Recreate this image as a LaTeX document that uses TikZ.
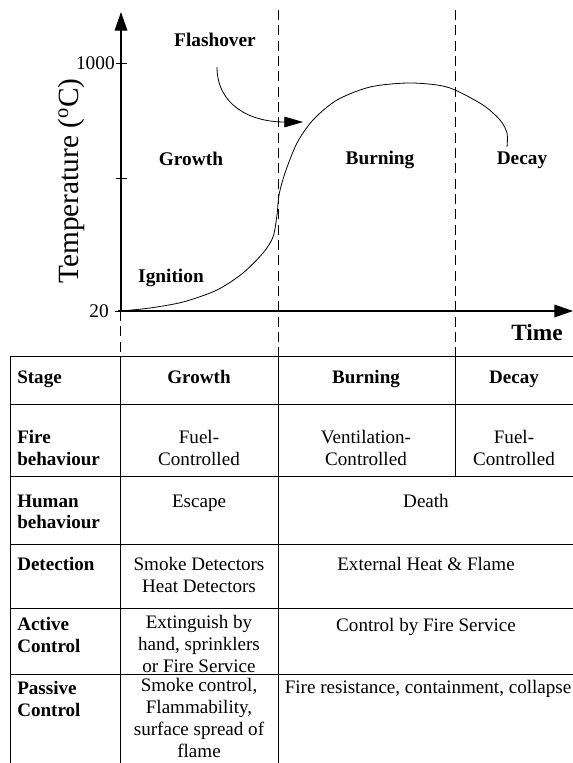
\documentclass[tikz,border=0pt]{standalone}
\usepackage{fontspec}
\setmainfont{Liberation Serif}
\usetikzlibrary{arrows.meta}
\begin{document}
\begin{tikzpicture}[
    x=0.75pt, y=-0.75pt,
    axis/.style={line width=0.9pt, -{Triangle[length=14pt, width=9.5pt]}},
    flash/.style={line width=0.6pt, -{Triangle[length=14pt, width=8pt]}},
    fire/.style={line width=0.6pt},
    sep/.style={line width=0.7pt, dash pattern=on 7.5pt off 4pt},
    rule/.style={line width=0.7pt},
    lab/.style={inner sep=0pt, anchor=base, font=\fontsize{14.5pt}{17pt}\selectfont\bfseries},
    num/.style={inner sep=0pt, anchor=east, font=\fontsize{14.5pt}{17pt}\selectfont},
    cell/.style={inner sep=0pt, align=center, font=\fontsize{14.3pt}{16.3pt}\selectfont},
    line/.style={inner sep=0pt, anchor=base, font=\fontsize{14.3pt}{16.3pt}\selectfont},
    head/.style={inner sep=0pt, align=left, anchor=west, font=\fontsize{14.3pt}{16.3pt}\selectfont\bfseries}
]
\useasboundingbox (0,0) rectangle (573,763);

\draw[sep] (278,10) -- (278,356);
\draw[sep] (455,10) -- (455,356);
\draw[sep] (120,311) -- (120,356);

\draw[axis] (118,311) -- (573,311);
\draw[axis] (121,311) -- (121,12);
\draw[rule] (116,63) -- (127,63);
\draw[rule] (116,178) -- (127,178);
\draw[rule] (115,311) -- (121,311);

\node[num] (t1000) at (115,63) {1000};
\node[num] (t20) at (109,311) {20};
\node[inner sep=0pt, rotate=90, font=\fontsize{22pt}{26pt}\selectfont] (ylab) at (71,181) {Temperature ($^{\mathrm{o}}$C)};
\node[lab, font=\fontsize{17.5pt}{20pt}\selectfont\bfseries] (xlab) at (537,340) {Time};

\node[lab] (flashover) at (215,47) {Flashover};
\node[lab] (growth) at (191,166) {Growth};
\node[lab] (ignition) at (171,282) {Ignition};
\node[lab] (burning) at (380,165) {Burning};
\node[lab] (decay) at (522,165) {Decay};

\draw[fire] plot[smooth, tension=0.5] coordinates {(121,311) (150,308) (183,302) (217,290) (243,273) (263,253) (273,237) (277,215) (279,195) (285,173) (297,143) (313,120) (337,100) (370,87) (407,83) (437,85) (455,90) (483,105) (500,120) (507,133) (507,147)};

\coordinate (fstart) at (217,67);
\coordinate (fend) at (303,122);
\draw[flash] (fstart) .. controls (217,105) and (250,122) .. (fend);

\draw[rule] (10,356) -- (573,356);
\draw[rule] (10,404) -- (573,404);
\draw[rule] (10,476) -- (573,476);
\draw[rule] (10,544) -- (573,544);
\draw[rule] (10,608) -- (573,608);
\draw[rule] (10,674) -- (573,674);
\draw[rule] (10,356) -- (10,763);
\draw[rule] (120,356) -- (120,763);
\draw[rule] (278,356) -- (278,763);
\draw[rule] (455,356) -- (455,476);

\node[line, anchor=base west, font=\fontsize{14.3pt}{16.3pt}\selectfont\bfseries] (stage) at (17,383) {Stage};
\node[line, font=\fontsize{14.3pt}{16.3pt}\selectfont\bfseries] (hgrowth) at (199,383) {Growth};
\node[line, font=\fontsize{14.3pt}{16.3pt}\selectfont\bfseries] (hburning) at (366,383) {Burning};
\node[line, font=\fontsize{14.3pt}{16.3pt}\selectfont\bfseries] (hdecay) at (514,383) {Decay};

\node[head] (firebeh) at (17,448) {Fire\\behaviour};
\node[cell] (fuel1) at (199,448) {Fuel-\\Controlled};
\node[cell] (vent) at (366,448) {Ventilation-\\Controlled};
\node[cell] (fuel2) at (514,448) {Fuel-\\Controlled};

\node[head] (humanbeh) at (17,512) {Human\\behaviour};
\node[line] (escape) at (199,507) {Escape};
\node[line] (death) at (426,507) {Death};

\node[line, anchor=base west, font=\fontsize{14.3pt}{16.3pt}\selectfont\bfseries] (detect) at (17,570) {Detection};
\node[cell] (detectors) at (199,575) {Smoke Detectors\\Heat Detectors};
\node[line] (external) at (426,570) {External Heat \& Flame};

\node[head] (active) at (17,635) {Active\\Control};
\node[cell] (extinguish) at (199,644) {Extinguish by\\hand, sprinklers\\or Fire Service};
\node[line] (service) at (426,631) {Control by Fire Service};

\node[head] (passive) at (17,699) {Passive\\Control};
\node[cell] (smoke) at (199,718) {Smoke control,\\Flammability,\\surface spread of\\flame};
\node[line] (resist) at (428,693) {Fire resistance, containment, collapse};

\end{tikzpicture}
\end{document}
